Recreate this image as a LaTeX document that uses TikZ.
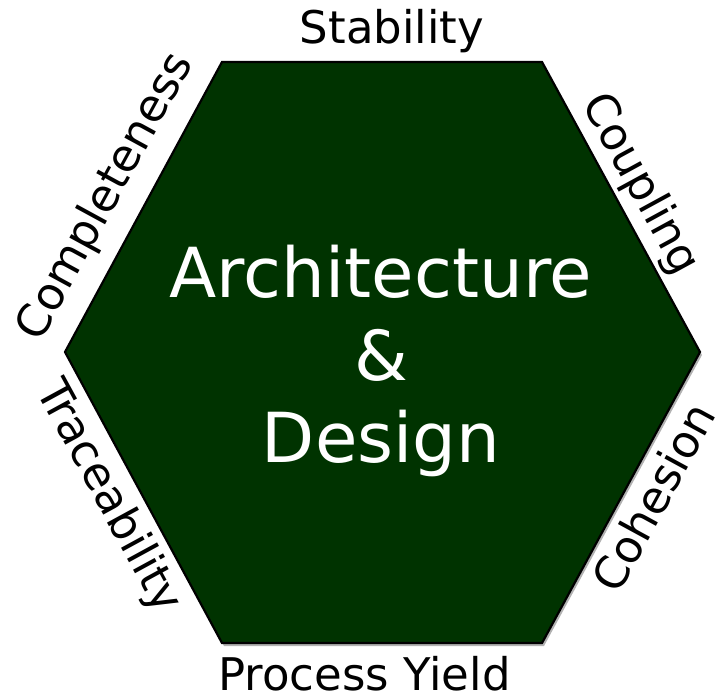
\documentclass[tikz,border=0pt]{standalone}
\usepackage{fontspec}
\setmainfont{DejaVu Sans}
\definecolor{hexgreen}{RGB}{0,51,0}
\begin{document}
\begin{tikzpicture}[x=1pt,y=-1pt,
  lbl/.style={font=\fontsize{45}{54}\selectfont, inner sep=0pt, text=black},
  ctr/.style={font=\fontsize{69}{82}\selectfont, inner sep=0pt, text=white, align=center}]
\useasboundingbox (0,0) rectangle (717,697);
\coordinate (v1) at (222,62);
\coordinate (v2) at (542,62);
\coordinate (v3) at (700,352);
\coordinate (v4) at (542,643);
\coordinate (v5) at (222,643);
\coordinate (v6) at (65,352);
\fill[gray!60] ([shift={(2,3)}]v1) -- ([shift={(2,3)}]v2) -- ([shift={(2,3)}]v3) -- ([shift={(2,3)}]v4) -- ([shift={(2,3)}]v5) -- ([shift={(2,3)}]v6) -- cycle;
\draw[fill=hexgreen, line width=2.2pt, line join=miter] (v1) -- (v2) -- (v3) -- (v4) -- (v5) -- (v6) -- cycle;
\node[ctr, anchor=base] (arch) at (381,297) {Architecture};
\node[ctr, anchor=base] (amp) at (381,380) {\&};
\node[ctr, anchor=base] (des) at (381,462) {Design};
\node[lbl, anchor=base] (stab) at (392,43) {Stability};
\node[lbl, anchor=base] (proc) at (364.5,690) {Process Yield};
\node[lbl, rotate=-61.4] (coup) at (640,185) {Coupling};
\node[lbl, rotate=61.4] (coh) at (653,497) {Cohesion};
\node[lbl, rotate=61.4] (comp) at (106,197) {Completeness};
\node[lbl, rotate=-61.4] (trace) at (108,497) {Traceability};
\end{tikzpicture}
\end{document}
